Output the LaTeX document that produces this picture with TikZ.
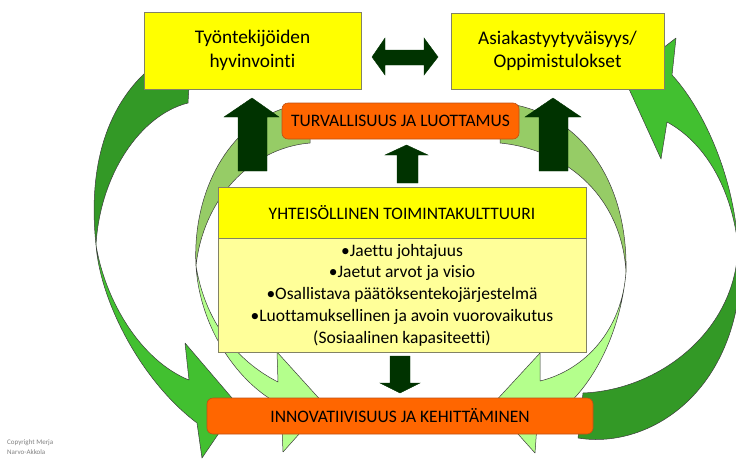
\documentclass[tikz,border=0pt]{standalone}
\usepackage{fontspec}
\setmainfont{Carlito}[Ligatures=NoCommon]
\definecolor{gdark}{RGB}{51,153,38}
\definecolor{gbright}{RGB}{66,192,48}
\definecolor{gmed}{RGB}{150,204,102}
\definecolor{glight}{RGB}{180,255,140}
\definecolor{edgecol}{RGB}{60,60,60}
\definecolor{ybord}{RGB}{130,130,100}
\definecolor{yfill}{RGB}{255,255,0}
\definecolor{lyfill}{RGB}{255,255,153}
\definecolor{ofill}{RGB}{255,102,0}
\definecolor{obord}{RGB}{190,80,20}
\definecolor{darr}{RGB}{0,51,0}
\newcommand\bigtxt{\fontsize{19.3}{23.5}\selectfont}
\newcommand\midtxt{\fontsize{17.5}{21.7}\selectfont}
\begin{document}
\begin{tikzpicture}[x=1pt,y=-1pt,
  cband/.style={draw=edgecol, line width=0.5pt, line join=round},
  blockarr/.style={fill=darr, draw=darr, line width=0.4pt, line join=miter},
  ybox/.style={draw=ybord, line width=0.6pt, fill=yfill, inner sep=0pt, align=center},
  lybox/.style={draw=ybord, line width=0.6pt, fill=lyfill, inner sep=0pt, align=center},
  obox/.style={draw=obord, line width=0.6pt, fill=ofill, rounded corners=6pt, inner sep=0pt, align=center}]
\useasboundingbox (0,0) rectangle (736,459);
\clip (0,0) rectangle (736,459);
% Arrow A (left, big)
\draw[cband, fill=gdark] (190,70) -- (188,103) .. controls (140,115) and (100,175) .. (96,245)
   .. controls (88,170) and (105,110) .. (146,72) -- cycle;
\draw[cband, fill=gbright] (96,245) .. controls (100,300) and (140,380) .. (197,423) -- (202,458) -- (238,405)
   -- (185,343) -- (189,380) .. controls (140,360) and (105,300) .. (96,245) -- cycle;
% Arrow B (right, big)
\draw[cband, fill=gdark] (583,393) .. controls (660,390) and (737,330) .. (738,245)
   -- (741,250) .. controls (745,390) and (650,450) .. (578,438) -- cycle;
\draw[cband, fill=gbright] (738,245) .. controls (733,170) and (700,105) .. (672,75) -- (676,38) -- (624,78)
   -- (661,159) -- (667,122) .. controls (700,140) and (730,180) .. (738,245) -- cycle;
% Arrow C (inner right)
\draw[cband, fill=gmed] (500,130) -- (500,143) .. controls (570,150) and (622,200) .. (626,272)
   .. controls (628,180) and (580,115) .. (510,104) -- cycle;
\draw[cband, fill=glight] (626,272) .. controls (620,340) and (585,405) .. (537,425) -- (535,453) -- (492,405)
   -- (540,353) -- (540,381) .. controls (585,370) and (622,330) .. (626,272) -- cycle;
% Arrow D (inner left)
\draw[cband, fill=gmed] (310,125) -- (310,143) .. controls (250,148) and (203,200) .. (196,266)
   .. controls (192,190) and (230,125) .. (285,108) -- cycle;
\draw[cband, fill=glight] (196,266) .. controls (200,330) and (240,385) .. (281,405) -- (283,452) -- (325,405)
   -- (277,352) -- (278,382) .. controls (235,360) and (205,320) .. (196,266) -- cycle;
% Boxes
\node[ybox, font=\bigtxt, minimum width=217pt, minimum height=77pt] (tyo) at (252.5,50.5) {Työntekijöiden\\hyvinvointi};
\node[ybox, font=\bigtxt, minimum width=213pt, minimum height=76pt] (asi) at (557.5,51) {Asiakastyytyväisyys/\\Oppimistulokset};
\node[obox, font=\midtxt, minimum width=237pt, minimum height=36pt] (tur) at (400.5,121) {TURVALLISUUS JA LUOTTAMUS};
\node[ybox, font=\midtxt, minimum width=368pt, minimum height=51pt] (yht) at (402,212.5) {YHTEISÖLLINEN TOIMINTAKULTTUURI};
\node[lybox, font=\midtxt, minimum width=368pt, minimum height=114pt] (lst) at (402,295) {•Jaettu johtajuus\\•Jaetut arvot ja visio\\•Osallistava päätöksentekojärjestelmä\\•Luottamuksellinen ja avoin vuorovaikutus\\(Sosiaalinen kapasiteetti)};
\node[obox, font=\midtxt, minimum width=386pt, minimum height=36pt] (inn) at (400,416) {INNOVATIIVISUUS JA KEHITTÄMINEN};
% Block arrows
\draw[blockarr] (238,171) -- (238,117) -- (224,117) -- (252,98) -- (279,117) -- (267,117) -- (267,171) -- cycle;
\draw[blockarr] (539,171) -- (539,117) -- (525,117) -- (553,98) -- (581,117) -- (568,117) -- (568,171) -- cycle;
\draw[blockarr] (397,183) -- (397,155) -- (385,155) -- (406.5,145) -- (428,155) -- (418,155) -- (418,183) -- cycle;
\draw[blockarr] (390,356) -- (410,356) -- (410,383) -- (420,383) -- (400,393) -- (380,383) -- (390,383) -- cycle;
\draw[blockarr] (372,57) -- (385,38) -- (385,50) -- (424,50) -- (424,38) -- (438,57) -- (424,75) -- (424,65)
   -- (385,65) -- (385,75) -- cycle;
% Copyright
\node[anchor=west, align=left, inner sep=0pt, text=gray, font=\fontsize{7}{10.5}\selectfont] (copy) at (7,447) {Copyright Merja\\Narvo-Akkola};
\end{tikzpicture}
\end{document}
